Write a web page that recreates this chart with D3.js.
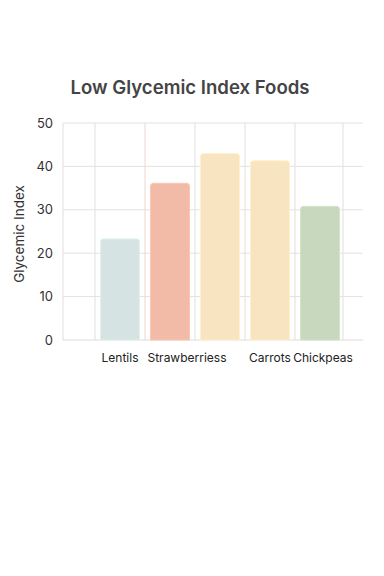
<!DOCTYPE html>
<html>
<head>
<meta charset="utf-8">
<script src="https://cdn.jsdelivr.net/npm/d3@7"></script>
<style>
  body { margin: 0; background: #fff; }
  text { font-family: Inter, "Liberation Sans", sans-serif; }
</style>
</head>
<body>
<div id="chart"></div>
<script>
// data
var foods = ["Lentils", "Strawberries", "Peach", "Carrots", "Chickpeas"];
var tickLabels = ["Lentils", "Strawberriess", "", "Carrots", "Chickpeas"];
var giValues = [23.3, 36.1, 43, 41.3, 30.8];
var barColors = ["#d5e4e2", "#f1bba8", "#f9e4c1", "#f9e4c1", "#c8d8bf"];
var yTicks = [0, 10, 20, 30, 40, 50];

var width = 384, height = 576;
var svg = d3.select("#chart").append("svg")
  .attr("width", width)
  .attr("height", height);

var x = d3.scaleBand()
  .domain(foods)
  .range([95, 345])
  .paddingInner(0.22)
  .paddingOuter(0.11);

var y = d3.scaleLinear()
  .domain([0, 50])
  .range([340, 123]);

// title
svg.append("text")
  .attr("x", 190)
  .attr("y", 94)
  .attr("text-anchor", "middle")
  .attr("font-size", 18.6)
  .attr("font-weight", 600)
  .attr("fill", "#444")
  .text("Low Glycemic Index Foods");

// horizontal grid
svg.append("g")
  .selectAll("line")
  .data(yTicks)
  .enter()
  .append("line")
  .attr("x1", 63)
  .attr("x2", 363)
  .attr("y1", function(d) { return y(d); })
  .attr("y2", function(d) { return y(d); })
  .attr("stroke", function(d) { return d == 0 ? "#dcdcdc" : "#e6e1df"; })
  .attr("stroke-width", 1);

// vertical grid on band edges
var vLines = [63].concat(foods.map(function(f) { return x(f) - x.step() * x.paddingInner() / 2; }));
vLines.push(343);
svg.append("g")
  .selectAll("line")
  .data(vLines)
  .enter()
  .append("line")
  .attr("x1", function(d) { return d; })
  .attr("x2", function(d) { return d; })
  .attr("y1", y(50))
  .attr("y2", y(0))
  .attr("stroke", function(d, i) { return i == 2 ? "#ecd6d2" : "#e3dfdc"; })
  .attr("stroke-width", 1);

// y tick labels
svg.append("g")
  .selectAll("text")
  .data(yTicks)
  .enter()
  .append("text")
  .attr("x", 53)
  .attr("y", function(d) { return y(d) + 4.5; })
  .attr("text-anchor", "end")
  .attr("font-size", 13)
  .attr("fill", "#333")
  .text(function(d) { return d; });

// y axis title
svg.append("text")
  .attr("transform", "translate(24,234) rotate(-90)")
  .attr("text-anchor", "middle")
  .attr("font-size", 13.5)
  .attr("fill", "#333")
  .text("Glycemic Index");

// bars with rounded tops
function barPath(d, i) {
  var x0 = x(foods[i]), w = x.bandwidth(), y0 = y(d), y1 = y(0), r = 3;
  return "M" + x0 + "," + y1 +
    "V" + (y0 + r) +
    "Q" + x0 + "," + y0 + " " + (x0 + r) + "," + y0 +
    "H" + (x0 + w - r) +
    "Q" + (x0 + w) + "," + y0 + " " + (x0 + w) + "," + (y0 + r) +
    "V" + y1 + "Z";
}

svg.append("g")
  .selectAll("path")
  .data(giValues)
  .enter()
  .append("path")
  .attr("d", barPath)
  .attr("fill", function(d, i) { return barColors[i]; })
  .attr("stroke", function(d, i) { return d3.color(barColors[i]).brighter(0.15); })
  .attr("stroke-width", 1);

// x labels
var labelShift = [0, 17, 0, 0, 3];
svg.append("g")
  .selectAll("text")
  .data(tickLabels)
  .enter()
  .append("text")
  .attr("x", function(d, i) { return x(foods[i]) + x.bandwidth() / 2 + labelShift[i]; })
  .attr("y", 362)
  .attr("text-anchor", "middle")
  .attr("font-size", 12)
  .attr("fill", "#222")
  .text(function(d) { return d; });
</script>
</body>
</html>
